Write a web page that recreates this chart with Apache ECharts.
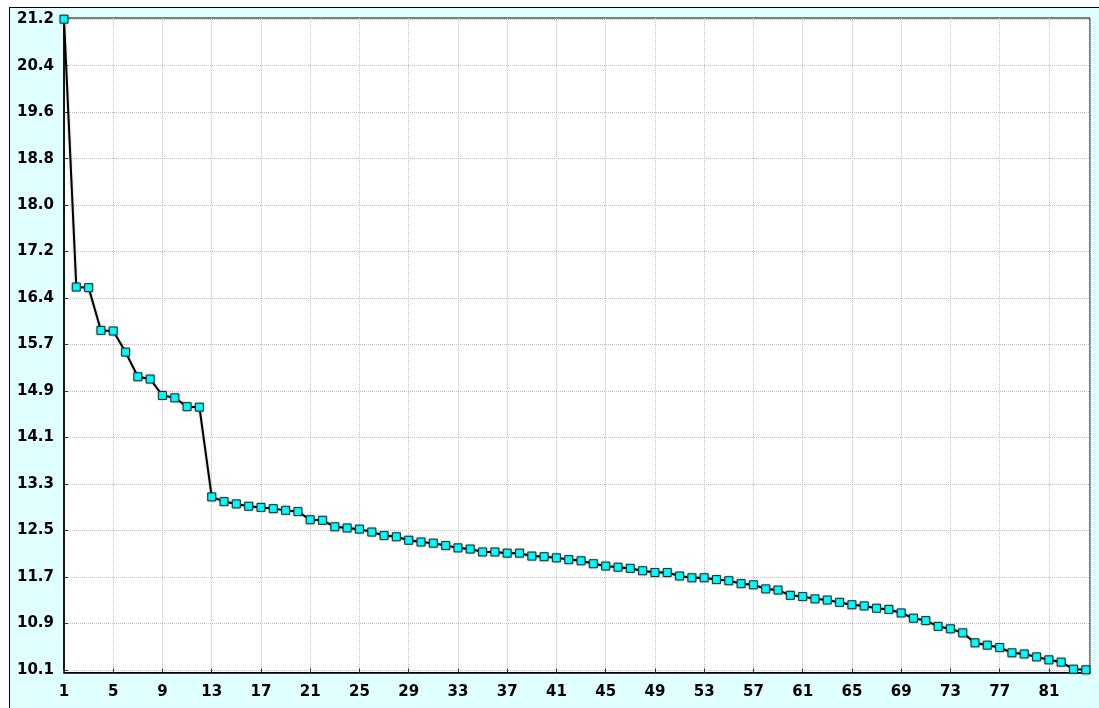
<!DOCTYPE html>
<html>
<head>
<meta charset="utf-8">
<script src="https://cdn.jsdelivr.net/npm/echarts@6/dist/echarts.min.js"></script>
<style>
  html, body { margin: 0; padding: 0; background: #ffffff; overflow: hidden; }
  #panel {
    position: absolute; left: 9px; top: 7px; width: 1100px; height: 710px;
    background: #e0ffff; border-left: 1.5px solid #000; border-top: 1.5px solid #000;
  }
  #chart { position: absolute; left: 0; top: 0; width: 1099px; height: 708px; }
</style>
</head>
<body>
<div id="panel"></div>
<div id="chart"></div>
<script>
// Ranked values, largest first (observation number 1..84)
const ranks = [
  1, 2, 3, 4, 5, 6, 7, 8, 9, 10, 11, 12, 13, 14, 15, 16, 17, 18, 19, 20,
  21, 22, 23, 24, 25, 26, 27, 28, 29, 30, 31, 32, 33, 34, 35, 36, 37, 38, 39, 40,
  41, 42, 43, 44, 45, 46, 47, 48, 49, 50, 51, 52, 53, 54, 55, 56, 57, 58, 59, 60,
  61, 62, 63, 64, 65, 66, 67, 68, 69, 70, 71, 72, 73, 74, 75, 76, 77, 78, 79, 80,
  81, 82, 83, 84
];
const values = [
  21.20, 16.63, 16.62, 15.89, 15.88, 15.52, 15.10, 15.06, 14.78, 14.74,
  14.59, 14.58, 13.05, 12.97, 12.93, 12.89, 12.87, 12.85, 12.82, 12.80,
  12.66, 12.65, 12.54, 12.52, 12.50, 12.45, 12.39, 12.37, 12.31, 12.28,
  12.26, 12.22, 12.18, 12.16, 12.11, 12.11, 12.09, 12.09, 12.04, 12.03,
  12.01, 11.98, 11.96, 11.91, 11.87, 11.85, 11.83, 11.79, 11.76, 11.76,
  11.70, 11.67, 11.67, 11.64, 11.62, 11.57, 11.55, 11.48, 11.46, 11.37,
  11.35, 11.31, 11.29, 11.25, 11.21, 11.19, 11.15, 11.13, 11.07, 10.98,
  10.94, 10.84, 10.80, 10.73, 10.56, 10.52, 10.48, 10.39, 10.37, 10.32,
  10.27, 10.23, 10.11, 10.10
];
// Value-axis tick labels, bottom to top (evenly spaced between 10.1 and 21.2)
const yTickLabels = [
  '10.1', '10.9', '11.7', '12.5', '13.3', '14.1', '14.9', '15.7',
  '16.4', '17.2', '18.0', '18.8', '19.6', '20.4', '21.2'
];
const yMin = 10.1, yMax = 21.2;
const xMin = 1, xMax = 84.34;
const xStep = 4;

const seriesData = ranks.map((r, i) => [r, values[i]]);

const labelFont = {
  fontFamily: 'DejaVu Sans',
  fontSize: 15,
  fontWeight: 'bold',
  color: '#000'
};
const gridLine = { show: true, lineStyle: { color: '#c2c2c2', width: 1, type: [1, 1] } };

const chart = echarts.init(document.getElementById('chart'), null, { renderer: 'canvas' });
chart.setOption({
  animation: false,
  grid: [
    // frame: white plotting field with its border
    { left: 64, top: 18, width: 1026, height: 654.5, show: true,
      backgroundColor: '#ffffff', borderColor: '#000', borderWidth: 1 },
    // value area: 10.1 .. 21.2
    { left: 64, top: 19.2, width: 1026, height: 650.6 }
  ],
  xAxis: [
    { // rank ticks 1, 5, 9, ... (counted from zero, shown +1)
      gridIndex: 0, type: 'value', position: 'bottom',
      min: 0, max: xMax - xMin, interval: xStep,
      axisLine: { show: true, lineStyle: { color: '#000', width: 1.5 } },
      axisTick: { show: true, inside: true, length: 4, lineStyle: { color: '#333' } },
      axisLabel: Object.assign({ margin: 12, showMaxLabel: false,
        formatter: v => (Number.isInteger(v) ? String(v + xMin) : '') }, labelFont),
      splitLine: gridLine
    },
    { gridIndex: 1, type: 'value', min: xMin, max: xMax, show: false }
  ],
  yAxis: [
    { // right-hand edge of the frame
      gridIndex: 0, type: 'value', position: 'right', min: 0, max: 1,
      axisLine: { show: true, lineStyle: { color: '#555', width: 2 } },
      axisTick: { show: false }, axisLabel: { show: false }, splitLine: { show: false }
    },
    { // labelled value ticks
      gridIndex: 1, type: 'value', position: 'left',
      min: 0, max: yTickLabels.length - 1, interval: 1,
      axisLine: { show: true, lineStyle: { color: '#000', width: 1.5 } },
      axisTick: { show: true, inside: true, length: 4, lineStyle: { color: '#333' } },
      axisLabel: Object.assign({ margin: 10,
        formatter: v => yTickLabels[Math.round(v)] }, labelFont),
      splitLine: gridLine
    },
    { gridIndex: 1, type: 'value', min: yMin, max: yMax, show: false }
  ],
  series: [{
    type: 'line',
    xAxisIndex: 1,
    yAxisIndex: 2,
    data: seriesData,
    clip: true,
    symbol: 'rect',
    symbolSize: 8,
    lineStyle: { color: '#000', width: 2, shadowColor: 'rgba(0,0,0,0.3)', shadowBlur: 2 },
    itemStyle: { color: '#00ffff', borderColor: '#1a3333', borderWidth: 1,
      shadowColor: 'rgba(0,0,0,0.3)', shadowBlur: 2 },
    emphasis: { disabled: true }
  }]
});
</script>
</body>
</html>
